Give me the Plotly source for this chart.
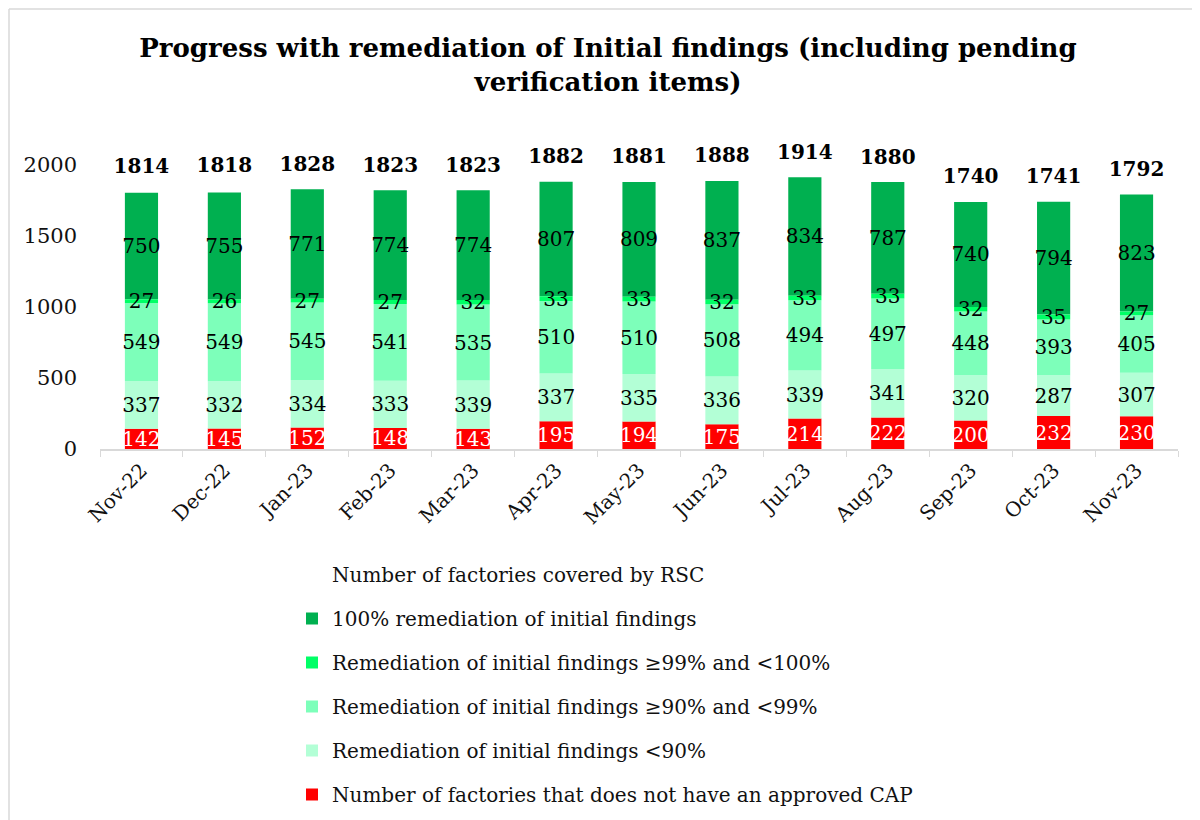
import numpy as np
import plotly.graph_objects as go

months = ["Nov-22", "Dec-22", "Jan-23", "Feb-23", "Mar-23", "Apr-23", "May-23",
          "Jun-23", "Jul-23", "Aug-23", "Sep-23", "Oct-23", "Nov-23"]
totals = [1814, 1818, 1828, 1823, 1823, 1882, 1881, 1888, 1914, 1880, 1740, 1741, 1792]
no_cap = [142, 145, 152, 148, 143, 195, 194, 175, 214, 222, 200, 232, 230]
below_90 = [337, 332, 334, 333, 339, 337, 335, 336, 339, 341, 320, 287, 307]
from_90_to_99 = [549, 549, 545, 541, 535, 510, 510, 508, 494, 497, 448, 393, 405]
from_99_to_100 = [27, 26, 27, 27, 32, 33, 33, 32, 33, 33, 32, 35, 27]
full_100 = [750, 755, 771, 774, 774, 807, 809, 837, 834, 787, 740, 794, 823]
y_ticks = [0, 500, 1000, 1500, 2000]

FONT = "DejaVu Serif"

# stacking order (bottom to top) and cumulative bases derived from the data
stack = [
    ("Number of factories that does not have an approved CAP", no_cap, "#FF0000", "white", 6),
    ("Remediation of initial findings <90%", below_90, "#B3FFD6", "black", 5),
    ("Remediation of initial findings ≥90% and <99%", from_90_to_99, "#7DFFBA", "black", 4),
    ("Remediation of initial findings ≥99% and <100%", from_99_to_100, "#00FF66", "black", 3),
    ("100% remediation of initial findings", full_100, "#00B050", "black", 2),
]
bases = []
acc = np.zeros(len(months))
for _, vals, _, _, _ in stack:
    bases.append(acc.copy())
    acc = acc + np.array(vals)

fig = go.Figure()

# legend-only entry for the totals series
fig.add_trace(go.Scatter(
    x=[None], y=[None], mode="lines", line=dict(color="rgba(0,0,0,0)"),
    name="Number of factories covered by RSC", legendgroup="g1", legendrank=1,
    hoverinfo="skip"))

# draw the thin ≥99% segment last so its labels stay on top
draw_order = [0, 1, 2, 4, 3]
for i in draw_order:
    name, vals, color, tcolor, rank = stack[i]
    fig.add_trace(go.Bar(
        x=months, y=vals, base=bases[i], name=name,
        marker=dict(color=color, line=dict(width=0)),
        text=vals, textposition="inside", insidetextanchor="middle",
        textangle=0, constraintext="none",
        textfont=dict(family=FONT, size=20, color=tcolor),
        legendgroup=f"g{rank}", legendrank=rank))

fig.add_trace(go.Scatter(
    x=months, y=totals, mode="markers+text", text=totals,
    textposition="top center", cliponaxis=False,
    marker=dict(size=20, color="rgba(0,0,0,0)"),
    texttemplate="<b>%{text}</b>",
    textfont=dict(family=FONT, size=20, color="black"),
    showlegend=False, hoverinfo="skip"))

# figure is offset by the 8px page margin, so sizes are 8px smaller
W, H = 1192, 812
L, R, T, B = 92, 22, 157, 371
pw, ph = W - L - R, H - T - B

def px_x(p):
    return (p - L) / pw

def px_y(p):
    return (H - B - p) / ph

fig.update_layout(
    width=W, height=H,
    margin=dict(l=L, r=R, t=T, b=B, autoexpand=False),
    paper_bgcolor="white", plot_bgcolor="white",
    barmode="overlay", bargap=0.6,
    font=dict(family=FONT, color="#000000"),
    title=dict(
        text="<b>Progress with remediation of Initial findings (including pending<br>verification items)</b>",
        x=600 / W, xanchor="center", y=1 - 49 / H, yanchor="top",
        font=dict(family=FONT, size=26, color="black")),
    xaxis=dict(
        type="category", range=[-0.5, len(months) - 0.5],
        tickson="boundaries", ticks="outside", ticklen=6,
        tickcolor="#D9D9D9", showline=True, linecolor="#D9D9D9", linewidth=1.5,
        showgrid=False, tickangle=-45,
        tickfont=dict(family=FONT, size=20, color="#111111")),
    yaxis=dict(
        range=[0, 2000], tickvals=y_ticks, showgrid=False, zeroline=False,
        showline=False, ticks="", ticklabelstandoff=22,
        tickfont=dict(family=FONT, size=21, color="#111111")),
    legend=dict(
        x=px_x(284), xanchor="left", y=px_y(547), yanchor="top",
        traceorder="grouped", tracegroupgap=15,
        font=dict(family=FONT, size=20, color="#111111"),
        bgcolor="rgba(0,0,0,0)"),
    showlegend=True,
    shapes=[
        dict(type="line", xref="paper", yref="paper",
             x0=px_x(1), x1=px_x(W), y0=px_y(1), y1=px_y(1),
             line=dict(color="#D9D9D9", width=1.5)),
        dict(type="line", xref="paper", yref="paper",
             x0=px_x(1), x1=px_x(1), y0=px_y(1), y1=px_y(H),
             line=dict(color="#D9D9D9", width=1.5)),
    ],
)

fig.write_html("out.html")
